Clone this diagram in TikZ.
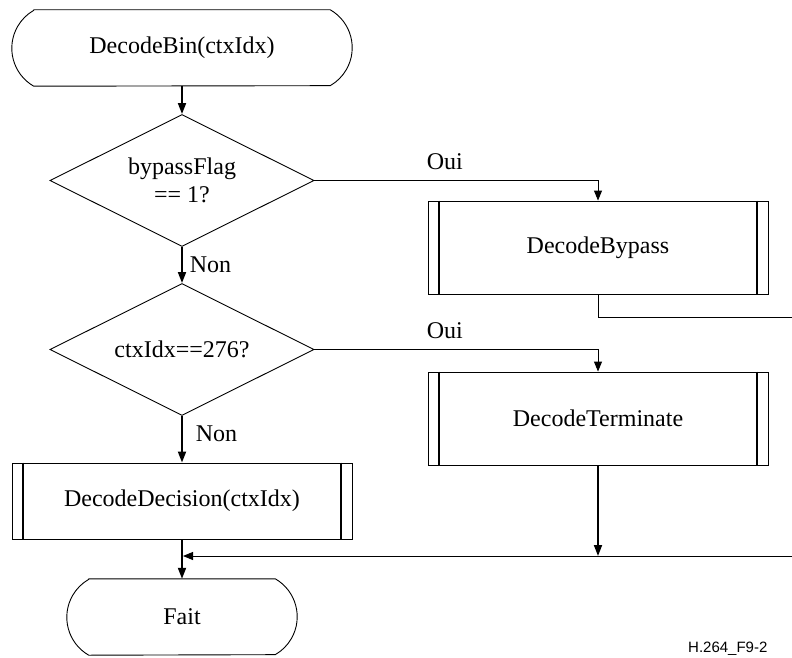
\documentclass[tikz,border=0pt]{standalone}
\usepackage{fontspec}
\setmainfont{Liberation Serif}
\newfontfamily\figsans{Liberation Sans}
\usetikzlibrary{arrows.meta,shapes.geometric}

\begin{document}
\begin{tikzpicture}[x=1pt,y=1pt,
  every node/.style={font=\fontsize{24}{28}\selectfont},
  terminal/.style={minimum width=#1, minimum height=76pt, inner sep=0pt},
  decision/.style={diamond, draw, line width=0.9pt, aspect=2,
    minimum width=264pt, minimum height=132pt, inner sep=0pt, align=center},
  subproc/.style={rectangle, draw, line width=0.9pt,
    minimum width=340pt, minimum height=#1, inner sep=0pt},
  flow/.style={line width=1.8pt, -{Triangle[length=11pt,width=8pt]}},
  branch/.style={line width=0.9pt, -{Triangle[length=10pt,width=8pt]}},
  wire/.style={line width=0.9pt},
  lbl/.style={inner sep=0pt},
  bar/.style={line width=1.8pt},
]
\useasboundingbox (0,0) rectangle (792,-658);
\clip (0,0) rectangle (792,-658);

% main column
\node[terminal=340pt] (start) at (182,-48) {DecodeBin(ctxIdx)};
\node[decision] (q1) at (182,-180.5) {bypassFlag\\== 1?};
\node[decision] (q2) at (182,-349.5) {ctxIdx==276?};
\node[subproc=76pt] (dec) at (182,-501) {DecodeDecision(ctxIdx)};
\node[terminal=230pt] (done) at (182,-617) {Fait};

% side column
\node[subproc=93pt] (byp) at (598,-247.5) {DecodeBypass};
\node[subproc=93pt] (term) at (598,-418.5) {DecodeTerminate};

% terminator outlines: flat top and bottom, arced sides
\foreach \t in {start,done}{
  \draw[wire] ([xshift=21.9pt]\t.north west) -- ([xshift=-21.9pt]\t.north east)
    arc[start angle=60,end angle=-60,radius=43.8pt]
    -- ([xshift=21.9pt]\t.south west)
    arc[start angle=240,end angle=120,radius=43.8pt] -- cycle;
}

% predefined-process side bars
\foreach \b in {byp,term,dec}{
  \draw[bar] ([xshift=11.5pt]\b.north west) -- ([xshift=11.5pt]\b.south west);
  \draw[bar] ([xshift=-11.5pt]\b.north east) -- ([xshift=-11.5pt]\b.south east);
}

% connectors
\draw[flow] (start.south) -- (q1.north);
\draw[branch] (q1.east) -| node[lbl,pos=0.23,above=10pt] (oui1) {Oui} (byp.north);
\draw[flow] (q1.south) -- node[lbl,right=7pt] (non1) {Non} (q2.north);
\draw[branch] (q2.east) -| node[lbl,pos=0.23,above=10pt] (oui2) {Oui} (term.north);
\draw[flow] (q2.south) -- node[lbl,right=13pt,yshift=5pt] (non2) {Non} (dec.north);
\draw[flow] (dec.south) -- (done.north);

\coordinate (bypout) at (792,-317);
\draw[wire] (byp.south) |- (bypout);

\coordinate (mergeR) at (792,-556);
\coordinate (mergeT) at (598,-556);
\coordinate (mergeL) at (183,-556);
\draw[flow] (term.south) -- (mergeT);
\draw[branch] (mergeR) -- (mergeL);

% figure identifier
\node[font=\figsans\fontsize{15}{17}\selectfont, anchor=base west, inner sep=0pt]
  (figid) at (688,-652) {H.264\_F9-2};
\end{tikzpicture}
\end{document}
